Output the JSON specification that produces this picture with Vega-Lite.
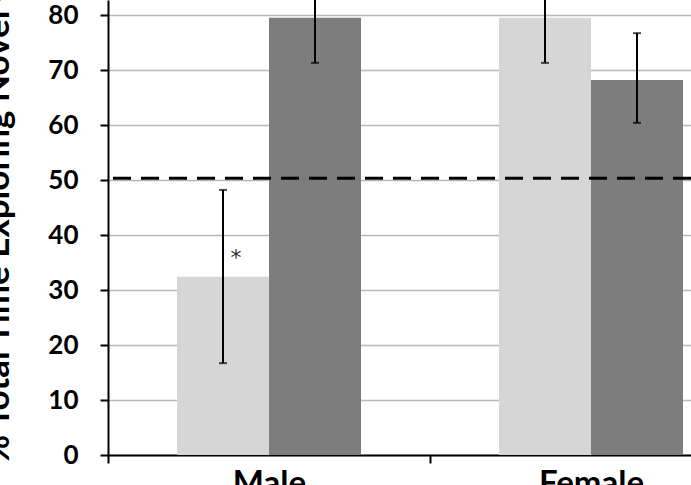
{
  "$schema": "https://vega.github.io/schema/vega-lite/v6.json",
  "width": 583,
  "height": 455,
  "autosize": "none",
  "padding": {"left": 108, "top": 0, "right": 0, "bottom": 30},
  "background": "white",
  "config": {"view": {"stroke": null}, "font": "Lato"},
  "data": {
    "values": [
      {"sex": "Male", "cond": "Condition 1", "mean": 32.4, "lo": 16.7, "hi": 48.2, "star": "*"},
      {"sex": "Male", "cond": "Condition 2", "mean": 79.5, "lo": 71.3, "hi": 87.7, "star": ""},
      {"sex": "Female", "cond": "Condition 1", "mean": 79.5, "lo": 71.3, "hi": 87.7, "star": ""},
      {"sex": "Female", "cond": "Condition 2", "mean": 68.2, "lo": 60.4, "hi": 76.7, "star": ""}
    ]
  },
  "layer": [
    {
      "mark": {"type": "bar"},
      "encoding": {
        "x": {
          "field": "sex", "type": "nominal", "sort": ["Male", "Female"],
          "scale": {"range": [0, 644], "paddingInner": 0, "paddingOuter": 0},
          "axis": {
            "title": null, "labelFontSize": 33, "labelFontWeight": "bold", "labelColor": "black",
            "labelPadding": 4, "labelAngle": 0, "labelDx": 7, "tickBand": "extent", "tickSize": 8,
            "tickWidth": 2, "tickColor": "black", "domainColor": "black", "domainWidth": 2, "grid": false
          }
        },
        "xOffset": {"field": "cond", "type": "nominal", "scale": {"paddingInner": 0, "paddingOuter": 0.75}},
        "y": {
          "field": "mean", "type": "quantitative",
          "scale": {"domain": [0, 82.73], "nice": false, "zero": true},
          "axis": {
            "values": [0, 10, 20, 30, 40, 50, 60, 70, 80],
            "title": "% Total Time Exploring Novel Object",
            "titleFontSize": 35, "titleFontWeight": "bold", "titleColor": "black",
            "titleAngle": -90, "titleAlign": "left", "titleBaseline": "alphabetic",
            "titleX": -100, "titleY": 463,
            "labelFontSize": 26, "labelFontWeight": "bold", "labelColor": "black", "labelPadding": 22,
            "tickSize": 8, "tickWidth": 2, "tickColor": "black",
            "domainColor": "black", "domainWidth": 2,
            "gridColor": "#b8b8b8", "gridWidth": 1.5
          }
        },
        "color": {"field": "cond", "type": "nominal", "scale": {"range": ["#d6d6d6", "#7d7d7d"]}, "legend": null}
      }
    },
    {
      "mark": {"type": "rule", "clip": true, "strokeWidth": 2, "color": "black"},
      "encoding": {
        "x": {"field": "sex", "type": "nominal", "sort": ["Male", "Female"]},
        "xOffset": {"field": "cond", "type": "nominal"},
        "y": {"field": "lo", "type": "quantitative"},
        "y2": {"field": "hi"}
      }
    },
    {
      "mark": {"type": "tick", "orient": "horizontal", "size": 8, "thickness": 2, "color": "black", "clip": true},
      "encoding": {
        "x": {"field": "sex", "type": "nominal", "sort": ["Male", "Female"]},
        "xOffset": {"field": "cond", "type": "nominal"},
        "y": {"field": "lo", "type": "quantitative"}
      }
    },
    {
      "mark": {"type": "tick", "orient": "horizontal", "size": 8, "thickness": 2, "color": "black", "clip": true},
      "encoding": {
        "x": {"field": "sex", "type": "nominal", "sort": ["Male", "Female"]},
        "xOffset": {"field": "cond", "type": "nominal"},
        "y": {"field": "hi", "type": "quantitative"}
      }
    },
    {
      "transform": [{"filter": "datum.star != ''"}],
      "mark": {"type": "text", "font": "DejaVu Sans", "fontSize": 22, "color": "#333333", "dx": 13, "dy": -12, "baseline": "alphabetic"},
      "encoding": {
        "x": {"field": "sex", "type": "nominal", "sort": ["Male", "Female"]},
        "xOffset": {"field": "cond", "type": "nominal"},
        "y": {"field": "mean", "type": "quantitative"},
        "text": {"field": "star"}
      }
    },
    {
      "data": {"values": [{"ref": 50.3}]},
      "mark": {"type": "rule", "strokeDash": [18, 10], "strokeWidth": 3, "color": "black"},
      "encoding": {"y": {"field": "ref", "type": "quantitative"}}
    }
  ]
}
